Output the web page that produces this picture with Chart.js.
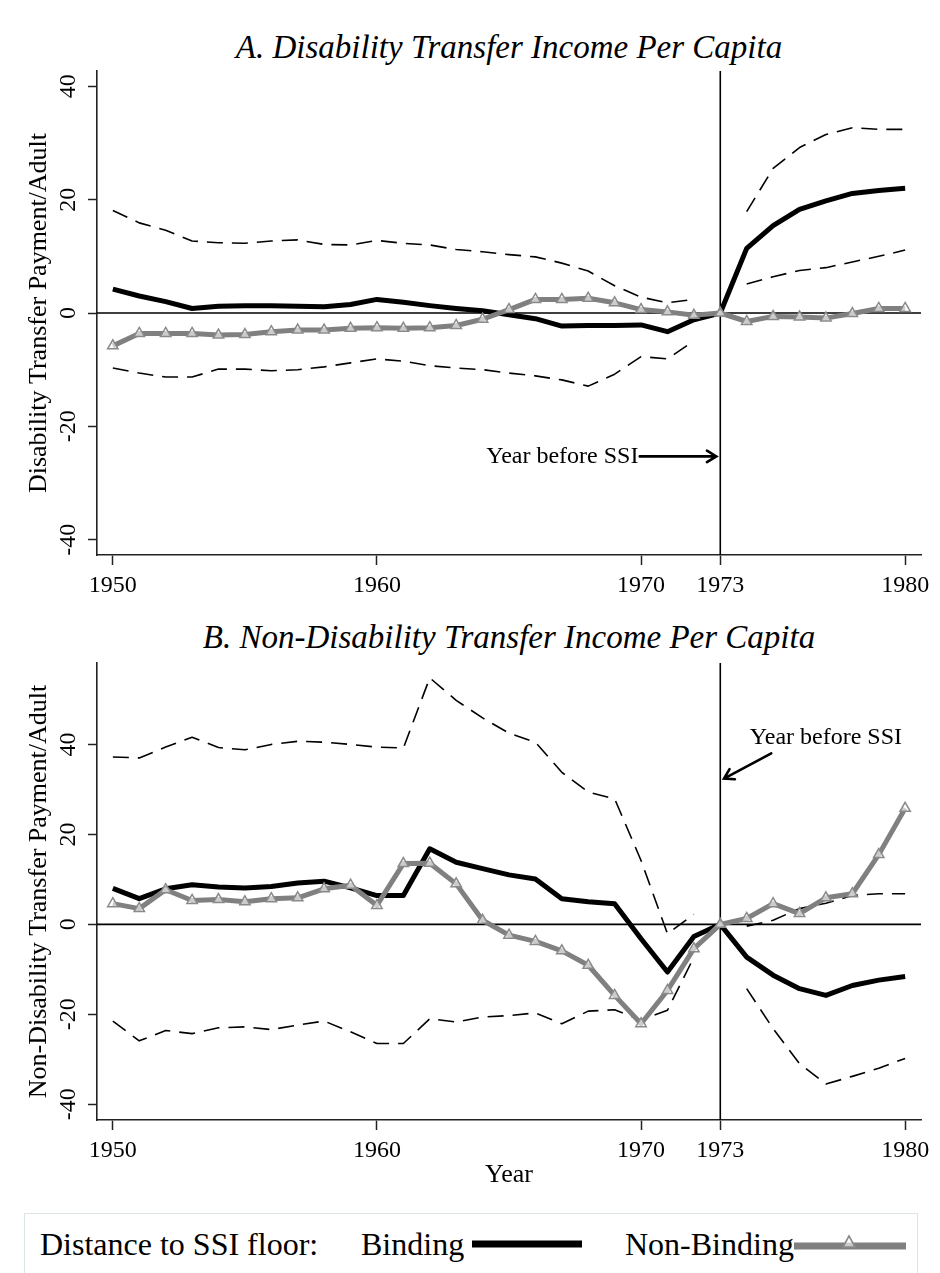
<!DOCTYPE html>
<html>
<head>
<meta charset="utf-8">
<script src="https://cdn.jsdelivr.net/npm/chart.js@4"></script>
<style>
  body { margin: 0; background: #fff; width: 940px; height: 1273px; position: relative; overflow: hidden;
         font-family: "Liberation Serif", "Times New Roman", serif; color: #000; }
  canvas { position: absolute; left: 0; }
  .panel-title { position: absolute; left: 97px; width: 824px; text-align: center; font-style: italic;
                 font-size: 33px; line-height: 40px; white-space: nowrap; }
  #legend { position: absolute; left: 24px; top: 1213px; width: 894px; height: 62px; box-sizing: border-box;
            border: 1px solid #dde6e6; font-size: 32px; }
  #legend span, #legend .sw { position: absolute; top: 50%; transform: translateY(-50%); white-space: nowrap; line-height: 40px; }
</style>
</head>
<body>
<div class="panel-title" style="top:27px">A. Disability Transfer Income Per Capita</div>
<canvas id="chartA" width="940" height="610" style="top:0"></canvas>
<div class="panel-title" style="top:617px">B. Non-Disability Transfer Income Per Capita</div>
<canvas id="chartB" width="940" height="600" style="top:600px"></canvas>

<div id="legend">
  <span style="left:15px">Distance to SSI floor:</span>
  <span style="left:336px">Binding</span>
  <div class="sw" style="left:447px;width:110px;height:7px;background:#000"></div>
  <span style="left:600px">Non-Binding</span>
  <svg class="sw" style="left:769px" width="112" height="24" viewBox="0 0 112 24">
    <line x1="0" y1="14" x2="112" y2="14" stroke="#808080" stroke-width="7"/>
    <polygon points="55,4 61,15 49,15" fill="#fff" fill-opacity="0.6" stroke="#8a8a8a" stroke-width="1.6"/>
  </svg>
</div>

<script>
// ---- data (years 1950-1980, 1973 = year before SSI) ----
const years = [1950, 1951, 1952, 1953, 1954, 1955, 1956, 1957, 1958, 1959,
               1960, 1961, 1962, 1963, 1964, 1965, 1966, 1967, 1968, 1969,
               1970, 1971, 1972, 1973, 1974, 1975, 1976, 1977, 1978, 1979, 1980]
const xTicks = [1950, 1960, 1970, 1973, 1980]
const yTicks = [-40, -20, 0, 20, 40]
const ssiYear = 1973

// Panel A: disability transfer income
const disBinding = [4.2, 3.0, 2.0, 0.8, 1.2, 1.3, 1.3, 1.2, 1.1, 1.5,
                    2.4, 1.9, 1.3, 0.8, 0.4, -0.3, -1.0, -2.3, -2.2, -2.2,
                    -2.1, -3.3, -1.2, 0, 11.4, 15.4, 18.3, 19.8, 21.1, 21.6, 22.0]
const disNonBinding = [-5.8, -3.6, -3.6, -3.6, -3.9, -3.8, -3.3, -3.0, -3.0, -2.7,
                       -2.6, -2.7, -2.6, -2.2, -1.1, 0.6, 2.4, 2.4, 2.6, 1.8,
                       0.6, 0.2, -0.4, 0, -1.5, -0.6, -0.7, -0.9, -0.1, 0.8, 0.8]
const disUpper = [18.1, 15.9, 14.6, 12.7, 12.4, 12.3, 12.7, 12.9, 12.1, 12.0,
                  12.8, 12.3, 12.0, 11.2, 10.8, 10.3, 9.9, 8.8, 7.4, 4.8,
                  2.8, 1.8, 2.4, null, 17.9, 25.5, 29.2, 31.5, 32.7, 32.4, 32.4]
const disLower = [-9.7, -10.6, -11.3, -11.3, -9.9, -9.9, -10.2, -10.0, -9.5, -8.8,
                  -8.1, -8.5, -9.3, -9.7, -10.0, -10.6, -11.1, -11.8, -12.9, -10.8,
                  -7.7, -8.1, -4.9, null, 5.1, 6.4, 7.5, 8.0, 9.0, 10.0, 11.1]

// Panel B: non-disability transfer income
const nonBinding = [8.0, 5.7, 7.9, 8.8, 8.3, 8.1, 8.4, 9.2, 9.6, 8.1,
                    6.4, 6.4, 16.8, 13.8, 12.4, 11.0, 10.1, 5.7, 5.0, 4.6,
                    -3.2, -10.6, -2.7, 0, -7.3, -11.3, -14.3, -15.8, -13.6, -12.4, -11.6]
const nonNonBinding = [4.6, 3.5, 7.7, 5.3, 5.5, 5.0, 5.7, 5.9, 7.9, 8.7,
                       4.2, 13.5, 13.6, 9.0, 0.9, -2.4, -3.8, -5.9, -9.1, -15.8,
                       -22.1, -14.7, -5.4, 0, 1.3, 4.6, 2.4, 5.9, 6.8, 15.5, 25.8]
const nonUpper = [37.2, 37.0, 39.4, 41.6, 39.3, 38.8, 40.0, 40.7, 40.5, 40.0,
                  39.4, 39.2, 54.8, 49.8, 45.9, 42.5, 40.5, 33.8, 29.4, 27.9,
                  14.2, -2.1, 2.2, null, -0.4, 0.9, 3.5, 4.7, 6.4, 6.8, 6.8]
const nonLower = [-21.5, -25.9, -23.6, -24.3, -23.0, -22.8, -23.4, -22.4, -21.5, -23.9,
                  -26.5, -26.5, -21.0, -21.7, -20.6, -20.3, -19.7, -22.1, -19.3, -19.0,
                  -21.3, -19.1, -7.3, null, -14.3, -23.2, -31.0, -35.5, -33.8, -32.0, -29.8]

const FONT = '"Liberation Serif", "Times New Roman", serif'
const GREY = '#808080'

const toPoints = (vals) => years.map((yr, i) => ({ x: yr, y: vals[i] }))

// zero line and vertical line at the year before SSI
const refLines = {
  id: 'refLines',
  beforeDatasetsDraw(chart) {
    const { ctx, chartArea: a, scales: { x, y } } = chart
    const xv = x.getPixelForValue(ssiYear)
    const y0 = y.getPixelForValue(0)
    ctx.save()
    ctx.strokeStyle = '#000'
    ctx.lineWidth = 1.6
    ctx.beginPath()
    ctx.moveTo(a.left, y0); ctx.lineTo(a.right, y0)
    ctx.moveTo(xv, a.top); ctx.lineTo(xv, a.bottom)
    ctx.stroke()
    ctx.restore()
  }
}

// Stata-style vertical y tick labels
const rotatedYTicks = {
  id: 'rotatedYTicks',
  afterDraw(chart, args, opts) {
    const { ctx, scales: { y } } = chart
    ctx.save()
    ctx.font = `24px ${FONT}`
    ctx.fillStyle = '#000'
    ctx.textAlign = 'center'
    ctx.textBaseline = 'middle'
    y.ticks.forEach((t) => {
      ctx.save()
      ctx.translate(opts.x, y.getPixelForValue(t.value))
      ctx.rotate(-Math.PI / 2)
      ctx.fillText(String(t.value), 0, 0)
      ctx.restore()
    })
    ctx.restore()
  }
}

// "Year before SSI" note with arrow
const ssiNote = {
  id: 'ssiNote',
  afterDatasetsDraw(chart, args, opts) {
    const { ctx, scales: { x, y } } = chart
    const px = (p) => [x.getPixelForValue(p[0]), y.getPixelForValue(p[1])]
    const [tx, ty] = px(opts.textAt)
    const [x1, y1] = px(opts.from)
    const [x2, y2] = px(opts.to)
    ctx.save()
    ctx.font = `24px ${FONT}`
    ctx.fillStyle = '#000'
    ctx.textAlign = opts.align
    ctx.textBaseline = 'middle'
    ctx.fillText(opts.text, tx, ty)
    ctx.strokeStyle = '#000'
    ctx.lineWidth = 2.6
    ctx.lineCap = 'round'
    const ang = Math.atan2(y2 - y1, x2 - x1)
    const head = 11
    ctx.beginPath()
    ctx.moveTo(x1, y1); ctx.lineTo(x2, y2)
    ctx.moveTo(x2 - head * Math.cos(ang - 0.55), y2 - head * Math.sin(ang - 0.55))
    ctx.lineTo(x2, y2)
    ctx.lineTo(x2 - head * Math.cos(ang + 0.55), y2 - head * Math.sin(ang + 0.55))
    ctx.stroke()
    ctx.restore()
  }
}

function buildDatasets(binding, nonBind, upper, lower) {
  const dashed = (vals) => ({
    data: toPoints(vals),
    borderColor: '#000',
    borderWidth: 1.6,
    borderDash: [16, 9],
    pointRadius: 0,
    spanGaps: false,
  })
  return [
    {
      data: toPoints(nonBind),
      borderColor: GREY,
      borderWidth: 5,
      pointStyle: 'triangle',
      pointRadius: 6,
      pointBorderWidth: 1.5,
      pointBorderColor: '#8a8a8a',
      pointBackgroundColor: 'rgba(255,255,255,0.6)',
    },
    {
      data: toPoints(binding),
      borderColor: '#000',
      borderWidth: 5,
      pointRadius: 0,
    },
    dashed(upper),
    dashed(lower),
  ]
}

function makePanel(canvasId, cfg) {
  const ctx = document.getElementById(canvasId).getContext('2d')
  return new Chart(ctx, {
    type: 'line',
    data: { datasets: buildDatasets(cfg.binding, cfg.nonBind, cfg.upper, cfg.lower) },
    plugins: [refLines, rotatedYTicks, ssiNote],
    options: {
      responsive: false,
      animation: false,
      devicePixelRatio: 1,
      layout: { padding: { top: cfg.padTop, right: 19, left: 0, bottom: 0 } },
      elements: { line: { tension: 0, borderJoinStyle: 'round' } },
      plugins: {
        legend: { display: false },
        tooltip: { enabled: false },
        ssiNote: cfg.note,
        rotatedYTicks: { x: 69 },
      },
      scales: {
        x: {
          type: 'linear',
          min: 1949.4,
          max: 1980.6,
          afterBuildTicks: (s) => { s.ticks = xTicks.map((v) => ({ value: v })) },
          afterFit: (s) => { s.height = cfg.xHeight },
          ticks: {
            callback: (v) => String(v),
            color: '#000',
            font: { family: FONT, size: 24 },
            padding: 6,
            maxRotation: 0,
            autoSkip: false,
          },
          grid: { drawOnChartArea: false, drawTicks: true, tickLength: 10, tickColor: '#222', tickWidth: 1.5 },
          border: { display: true, color: '#222', width: 1.6 },
          title: cfg.xTitle
            ? { display: true, text: cfg.xTitle, color: '#000', font: { family: FONT, size: 26 }, padding: { top: 0, bottom: 9 } }
            : { display: false },
        },
        y: {
          min: cfg.yMin,
          max: cfg.yMax,
          afterBuildTicks: (s) => { s.ticks = yTicks.map((v) => ({ value: v })) },
          afterFit: (s) => { s.width = 97 },
          ticks: { display: false },
          grid: { drawOnChartArea: false, drawTicks: true, tickLength: 9, tickColor: '#222', tickWidth: 1.5 },
          border: { display: true, color: '#222', width: 1.6 },
          title: { display: true, text: cfg.yTitle, color: '#000', font: { family: FONT, size: 26 }, padding: { top: 24, bottom: 0 } },
        },
      },
    },
  })
}

makePanel('chartA', {
  binding: disBinding, nonBind: disNonBinding, upper: disUpper, lower: disLower,
  yMin: -42.7, yMax: 42.7, padTop: 71, xHeight: 55,
  yTitle: 'Disability Transfer Payment/Adult',
  note: { text: 'Year before SSI', align: 'right', textAt: [1969.9, -25.3], from: [1969.95, -25.3], to: [1972.85, -25.3] },
})

makePanel('chartB', {
  binding: nonBinding, nonBind: nonNonBinding, upper: nonUpper, lower: nonLower,
  yMin: -43.5, yMax: 58.1, padTop: 63, xHeight: 80,
  yTitle: 'Non-Disability Transfer Payment/Adult', xTitle: 'Year',
  note: { text: 'Year before SSI', align: 'center', textAt: [1977.0, 41.6], from: [1974.93, 38.0], to: [1973.14, 32.4] },
})
</script>
</body>
</html>
